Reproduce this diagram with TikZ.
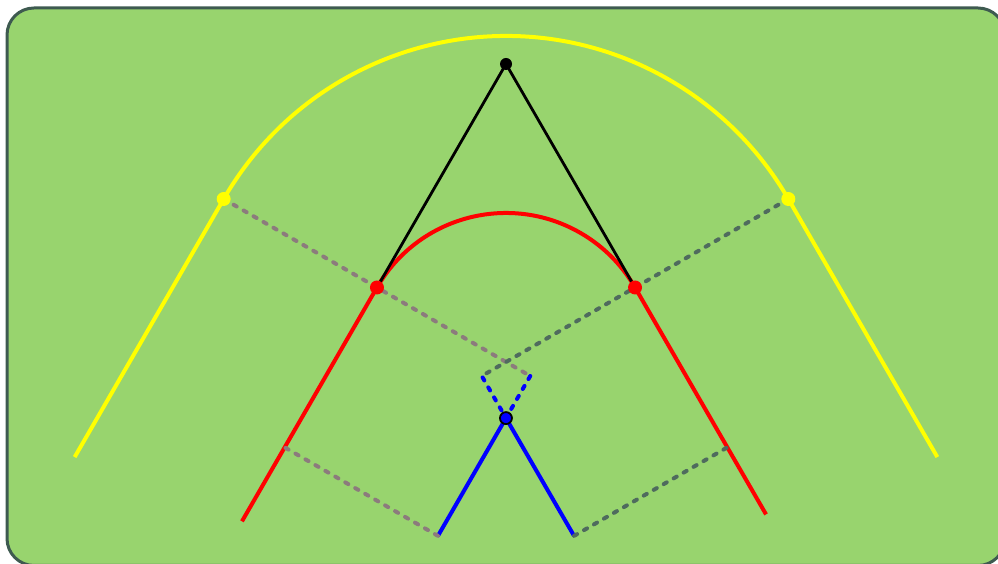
\documentclass[tikz,border=0pt]{standalone}
\usetikzlibrary{calc}
\definecolor{bgg}{HTML}{98D46E}
\definecolor{bord}{HTML}{3E5A50}
\definecolor{gdl}{HTML}{8C7B7D}
\definecolor{gdr}{HTML}{4F6B5E}
\definecolor{ylw}{HTML}{FFFF00}
\tikzset{
  thick line/.style={line width=4pt},
  dashl/.style={line width=4pt, line cap=round, dash pattern=on 3.5pt off 8pt},
  dot/.style={circle, inner sep=0pt, minimum size=#1},
}
\begin{document}
\begin{tikzpicture}[x=1pt,y=1pt]
\useasboundingbox (0,0) rectangle (998,564);
\begin{scope}
\clip (0,0) rectangle (998,564);
\draw[bord, fill=bgg, line width=3pt, rounded corners=27pt] (7,-1.5) rectangle (1005,556);
\end{scope}
% geometry
\coordinate (C) at (506,202);
\coordinate (apex) at (506,500);
\coordinate (rl) at ($(C)+(150:149)$);
\coordinate (rr) at ($(C)+(30:149)$);
\coordinate (yl) at ($(C)+(150:326)$);
\coordinate (yr) at ($(C)+(30:326)$);
\coordinate (yle) at ($(yl)+(240:298)$);
\coordinate (yre) at ($(yr)+(300:298)$);
\coordinate (rle) at ($(rl)+(240:270)$);
\coordinate (rre) at ($(rr)+(300:262)$);
\coordinate (bl0) at ($(rl)+(-30:177)$);
\coordinate (br0) at ($(rr)+(210:177)$);
\coordinate (bx) at ($(bl0)+(240:48.6)$);
\coordinate (ble) at ($(bl0)+(240:184.6)$);
\coordinate (bre) at ($(br0)+(300:184.6)$);
\coordinate (rlm) at ($(rl)+(240:184.6)$);
\coordinate (rrm) at ($(rr)+(300:184.6)$);
% yellow
\draw[ylw, thick line] (yle) -- (yl) arc[start angle=150, end angle=30, radius=326] -- (yre);
% red
\draw[red, thick line] (rle) -- (rl) arc[start angle=150, end angle=30, radius=149] -- (rre);
% black
\draw[black, line width=2.8pt] (rl) -- (apex) -- (rr);
% blue
\draw[blue, thick line] (ble) -- (bx) -- (bre);
\draw[blue, dashl] (bl0) -- (bx) -- (br0);
% gray dashed
\draw[gdl, dashl] (yl) -- (bl0);
\draw[gdr, dashl] (yr) -- (br0);
\draw[gdl, dashl] (ble) -- (rlm);
\draw[gdr, dashl] (bre) -- (rrm);
% dots
\node[dot=14pt, fill=ylw] (dyl) at (yl) {};
\node[dot=14pt, fill=ylw] (dyr) at (yr) {};
\node[dot=14pt, fill=red] (drl) at (rl) {};
\node[dot=14pt, fill=red] (drr) at (rr) {};
\node[dot=12pt, fill=black] (dap) at (apex) {};
\node[dot=12pt, fill=blue, draw=black, line width=1.8pt] (dbx) at (bx) {};
\end{tikzpicture}
\end{document}
